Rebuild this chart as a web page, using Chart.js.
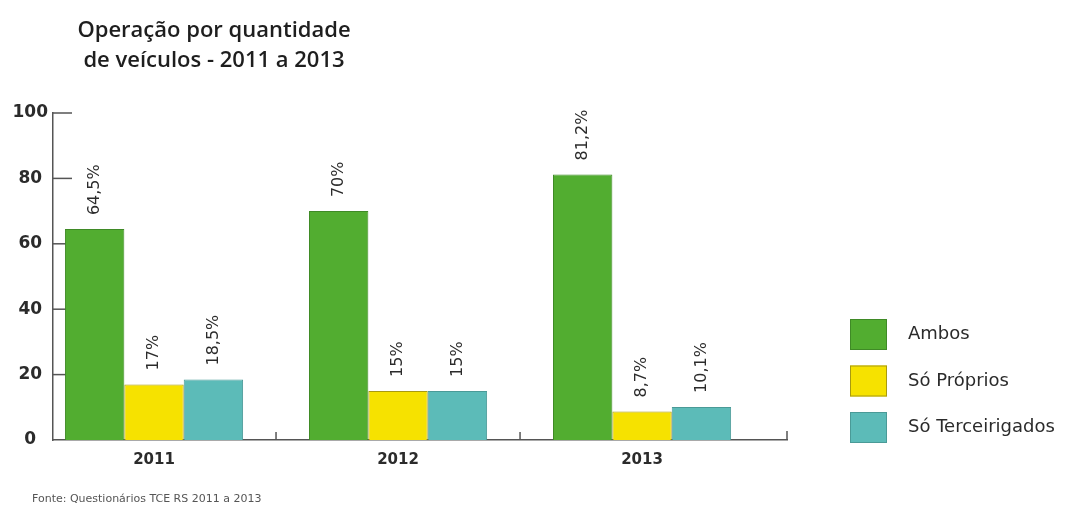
<!DOCTYPE html>
<html>
<head>
<meta charset="utf-8">
<script src="https://cdn.jsdelivr.net/npm/chart.js@4.4.1/dist/chart.umd.min.js"></script>
<style>
  html, body { margin: 0; padding: 0; background: #ffffff; }
  #wrap { position: relative; width: 1065px; height: 505px; }
</style>
</head>
<body>
<div id="wrap"><canvas id="c"></canvas></div>
<script>
// ---- data ----
const categories = ['2011', '2012', '2013'];
const seriesNames = ['Ambos', 'Só Próprios', 'Só Terceirigados'];
const ambos = [64.5, 70, 81.2];
const soProprios = [17, 15, 8.7];
const soTerceirigados = [18.5, 15, 10.1];
const yTicks = [0, 20, 40, 60, 80, 100];
const titleLines = ['Operação por quantidade', 'de veículos - 2011 a 2013'];
const sourceNote = 'Fonte: Questionários TCE RS 2011 a 2013';

// ---- styles ----
const fills = ['#52ad30', '#f6e200', '#5cbbb8'];
const edges = ['#3f8a26', '#a89a10', '#4a9a97'];
const textColor = '#2b2b2b';
const axisColor = '#555555';
const baseFont = '"DejaVu Sans", sans-serif';

const toPoints = arr => arr.map((v, i) => ({ x: i, y: v }));
const seriesValues = [ambos, soProprios, soTerceirigados];

const datasets = seriesValues.map((vals, k) => ({
  label: seriesNames[k],
  data: toPoints(vals),
  backgroundColor: fills[k],
  borderColor: edges[k],
  borderWidth: 1,
  categoryPercentage: 0.73,
  barPercentage: 1.0
}));

const fmt = v => String(v).replace('.', ',') + '%';

const decorPlugin = {
  id: 'decor',
  beforeDatasetsDraw(chart) {
    const { ctx, chartArea, scales } = chart;
    const y = scales.y, x = scales.x;
    ctx.save();
    ctx.strokeStyle = axisColor;
    ctx.lineWidth = 1.5;
    yTicks.forEach(v => {
      if (v === 0) return;
      const py = y.getPixelForValue(v);
      ctx.beginPath();
      ctx.moveTo(chartArea.left, py);
      ctx.lineTo(chartArea.left + 19, py);
      ctx.stroke();
    });
    [0.5, 1.5].forEach(v => {
      const px = x.getPixelForValue(v);
      ctx.beginPath();
      ctx.moveTo(px, chartArea.bottom);
      ctx.lineTo(px, chartArea.bottom - 8);
      ctx.stroke();
    });
    ctx.beginPath();
    ctx.moveTo(chartArea.right, chartArea.bottom);
    ctx.lineTo(chartArea.right, chartArea.bottom - 9);
    ctx.stroke();
    ctx.restore();
  },
  afterDatasetsDraw(chart) {
    const { ctx } = chart;
    ctx.save();
    ctx.fillStyle = textColor;
    ctx.font = '16px ' + baseFont;
    ctx.textAlign = 'left';
    ctx.textBaseline = 'middle';
    chart.data.datasets.forEach((ds, k) => {
      const meta = chart.getDatasetMeta(k);
      meta.data.forEach((el, i) => {
        ctx.save();
        ctx.translate(el.x, el.y - 14);
        ctx.rotate(-Math.PI / 2);
        ctx.fillText(fmt(seriesValues[k][i]), 0, 0);
        ctx.restore();
      });
    });
    ctx.restore();
  },
  afterDraw(chart) {
    const { ctx } = chart;
    ctx.save();
    ctx.fillStyle = '#1e1e1e';
    ctx.font = '600 22px "Open Sans", sans-serif';
    ctx.textAlign = 'center';
    ctx.textBaseline = 'alphabetic';
    ctx.fillText(titleLines[0], 214, 37);
    ctx.fillText(titleLines[1], 214, 67);
    ctx.fillStyle = '#555555';
    ctx.font = '11px ' + baseFont;
    ctx.textAlign = 'left';
    ctx.textBaseline = 'middle';
    ctx.fillText(sourceNote, 32, 499);
    const lx = 850, ly = 319, step = 46.5, bw = 37, bh = 31;
    ctx.font = '18px ' + baseFont;
    seriesNames.forEach((name, k) => {
      const top = ly + k * step;
      ctx.fillStyle = fills[k];
      ctx.fillRect(lx, top, bw, bh);
      ctx.strokeStyle = edges[k];
      ctx.lineWidth = 1;
      ctx.strokeRect(lx + 0.5, top + 0.5, bw - 1, bh - 1);
      ctx.fillStyle = textColor;
      ctx.fillText(name, 908, top + bh / 2);
    });
    ctx.restore();
  }
};

new Chart(document.getElementById('c'), {
  type: 'bar',
  data: { datasets },
  options: {
    responsive: true,
    maintainAspectRatio: false,
    animation: false,
    layout: { padding: { top: 113, right: 278, bottom: 0, left: 0 } },
    plugins: {
      legend: { display: false },
      tooltip: { enabled: false },
      title: { display: false }
    },
    scales: {
      x: {
        type: 'linear',
        min: -0.414,
        max: 2.594,
        offset: false,
        afterBuildTicks(scale) {
          scale.ticks = categories.map((_, i) => ({ value: i }));
        },
        afterFit(scale) { scale.height = 65; },
        ticks: {
          autoSkip: false,
          maxRotation: 0,
          padding: 11,
          color: textColor,
          font: { family: baseFont, size: 15, weight: 'bold' },
          callback: (v) => categories[Math.round(v)]
        },
        grid: { display: false, drawTicks: false },
        border: { display: true, color: axisColor, width: 1.5 }
      },
      y: {
        min: 0,
        max: 100,
        afterBuildTicks(scale) {
          scale.ticks = yTicks.map(v => ({ value: v }));
        },
        afterFit(scale) { scale.width = 53; },
        ticks: {
          crossAlign: 'center',
          padding: 5,
          color: textColor,
          font: { family: baseFont, size: 17, weight: 'bold' }
        },
        grid: { display: false, drawTicks: false },
        border: { display: true, color: axisColor, width: 1.5 }
      }
    }
  },
  plugins: [decorPlugin]
});
</script>
</body>
</html>
